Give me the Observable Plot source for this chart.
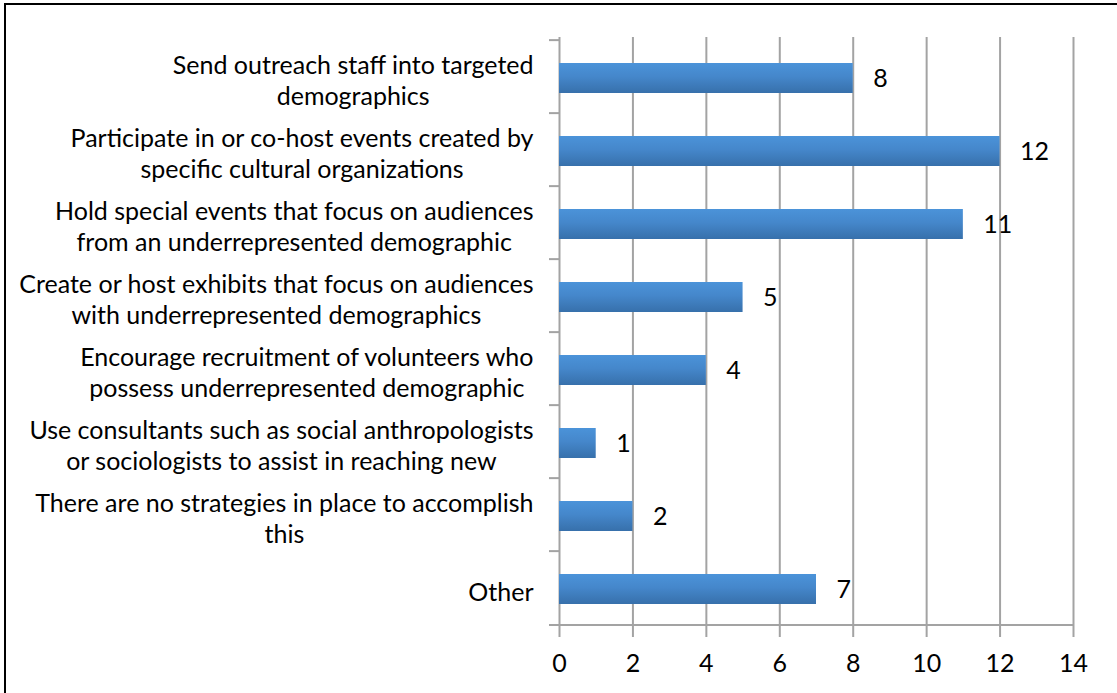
<!DOCTYPE html>
<html>
<head>
<meta charset="utf-8">
<script src="https://cdn.jsdelivr.net/npm/d3@7"></script>
<script src="https://cdn.jsdelivr.net/npm/@observablehq/plot@0.6"></script>
<style>
  html, body { margin: 0; padding: 0; background: #fff; width: 1117px; height: 693px; overflow: hidden; }
  #wrap { position: relative; width: 1117px; height: 693px; }
  #frame { position: absolute; left: 4px; top: 3px; width: 1200px; height: 800px; border-top: 2px solid #000; border-left: 2px solid #000; box-sizing: border-box; pointer-events: none; }
  #chart { position: absolute; left: 0; top: 0; }
</style>
</head>
<body>
<div id="wrap"><div id="chart"></div><div id="frame"></div></div>
<script>
const categories = [
  "Send outreach staff into targeted\ndemographics",
  "Participate in or co-host events created by\nspecific cultural organizations",
  "Hold special events that focus on audiences\nfrom an underrepresented demographic",
  "Create or host exhibits that focus on audiences\nwith underrepresented demographics",
  "Encourage recruitment of volunteers who\npossess underrepresented demographic",
  "Use consultants such as social anthropologists\nor sociologists to assist in reaching new",
  "There are no strategies in place to accomplish\nthis",
  "Other"
];
const values = [8, 12, 11, 5, 4, 1, 2, 7];
const xTicks = [0, 2, 4, 6, 8, 10, 12, 14];

const data = categories.map((c, i) => ({category: c, value: values[i]}));

const W = 1117, H = 693;
const mTop = 37, mBottom = 66, mLeft = 559, mRight = 44;
const step = (H - mTop - mBottom) / categories.length;
const FONT = "Lato, 'Open Sans', sans-serif";
const FS = 25;
const GRID = "#a3a3a3";

const plot = Plot.plot({
  width: W,
  height: H,
  marginTop: mTop,
  marginBottom: mBottom,
  marginLeft: mLeft,
  marginRight: mRight,
  style: {fontFamily: FONT, fontSize: FS + "px", color: "#000", background: "transparent"},
  x: {domain: [0, 14], axis: null, label: null},
  y: {domain: categories, padding: 0, axis: null, label: null},
  marks: [
    Plot.ruleX(xTicks, {stroke: GRID, strokeWidth: 2}),
    Plot.ruleY(categories, {y: d => d, x1: 0, x2: 0, insetLeft: -10, dy: -step / 2, stroke: GRID, strokeWidth: 2}),
    Plot.ruleY([categories[categories.length - 1]], {y: d => d, x1: 0, x2: 14, insetLeft: -10, dy: step / 2, stroke: GRID, strokeWidth: 2}),
    Plot.axisX({ticks: xTicks, tickSize: 10, tickPadding: 17, stroke: GRID, strokeWidth: 2, fill: "#000", fontSize: FS, tickFormat: d => String(d), label: null}),
    Plot.axisY({tickSize: 0, tickPadding: 26, fill: "#000", fontSize: FS, dy: 3, lineHeight: 1.24, textAnchor: "end", label: null}),
    Plot.barX(data, {x: "value", y: "category", fill: "url(#barGrad)", insetTop: 23, insetBottom: 20, style: "filter:url(#barShadow)"}),
    Plot.text(data, {x: "value", y: "category", text: d => String(d.value), textAnchor: "start", dx: 20, dy: 2, fontSize: FS, fill: "#000"})
  ]
});

// Gradient + shadow definitions
const svg = d3.select(plot);
const defs = svg.insert("defs", ":first-child");
const g = defs.append("linearGradient").attr("id", "barGrad").attr("x1", 0).attr("y1", 0).attr("x2", 0).attr("y2", 1);
g.append("stop").attr("offset", "0%").attr("stop-color", "#4b93d9");
g.append("stop").attr("offset", "45%").attr("stop-color", "#4587cb");
g.append("stop").attr("offset", "100%").attr("stop-color", "#3770ab");
const f = defs.append("filter").attr("id", "barShadow").attr("x", "-5%").attr("y", "-30%").attr("width", "115%").attr("height", "180%");
f.append("feDropShadow").attr("dx", 1).attr("dy", 3).attr("stdDeviation", 2).attr("flood-color", "#000").attr("flood-opacity", 0.3);

document.getElementById("chart").appendChild(plot);

// Center the lines of each multi-line category label within its right-aligned block
plot.querySelectorAll("text").forEach(t => {
  const spans = Array.from(t.querySelectorAll("tspan"));
  if (spans.length < 2) return;
  const widths = spans.map(s => s.getComputedTextLength());
  const w = Math.max(...widths);
  spans.forEach((s, i) => {
    const x0 = parseFloat(s.getAttribute("x") || "0");
    s.setAttribute("x", x0 - (w - widths[i]) / 2);
  });
});
</script>
</body>
</html>
